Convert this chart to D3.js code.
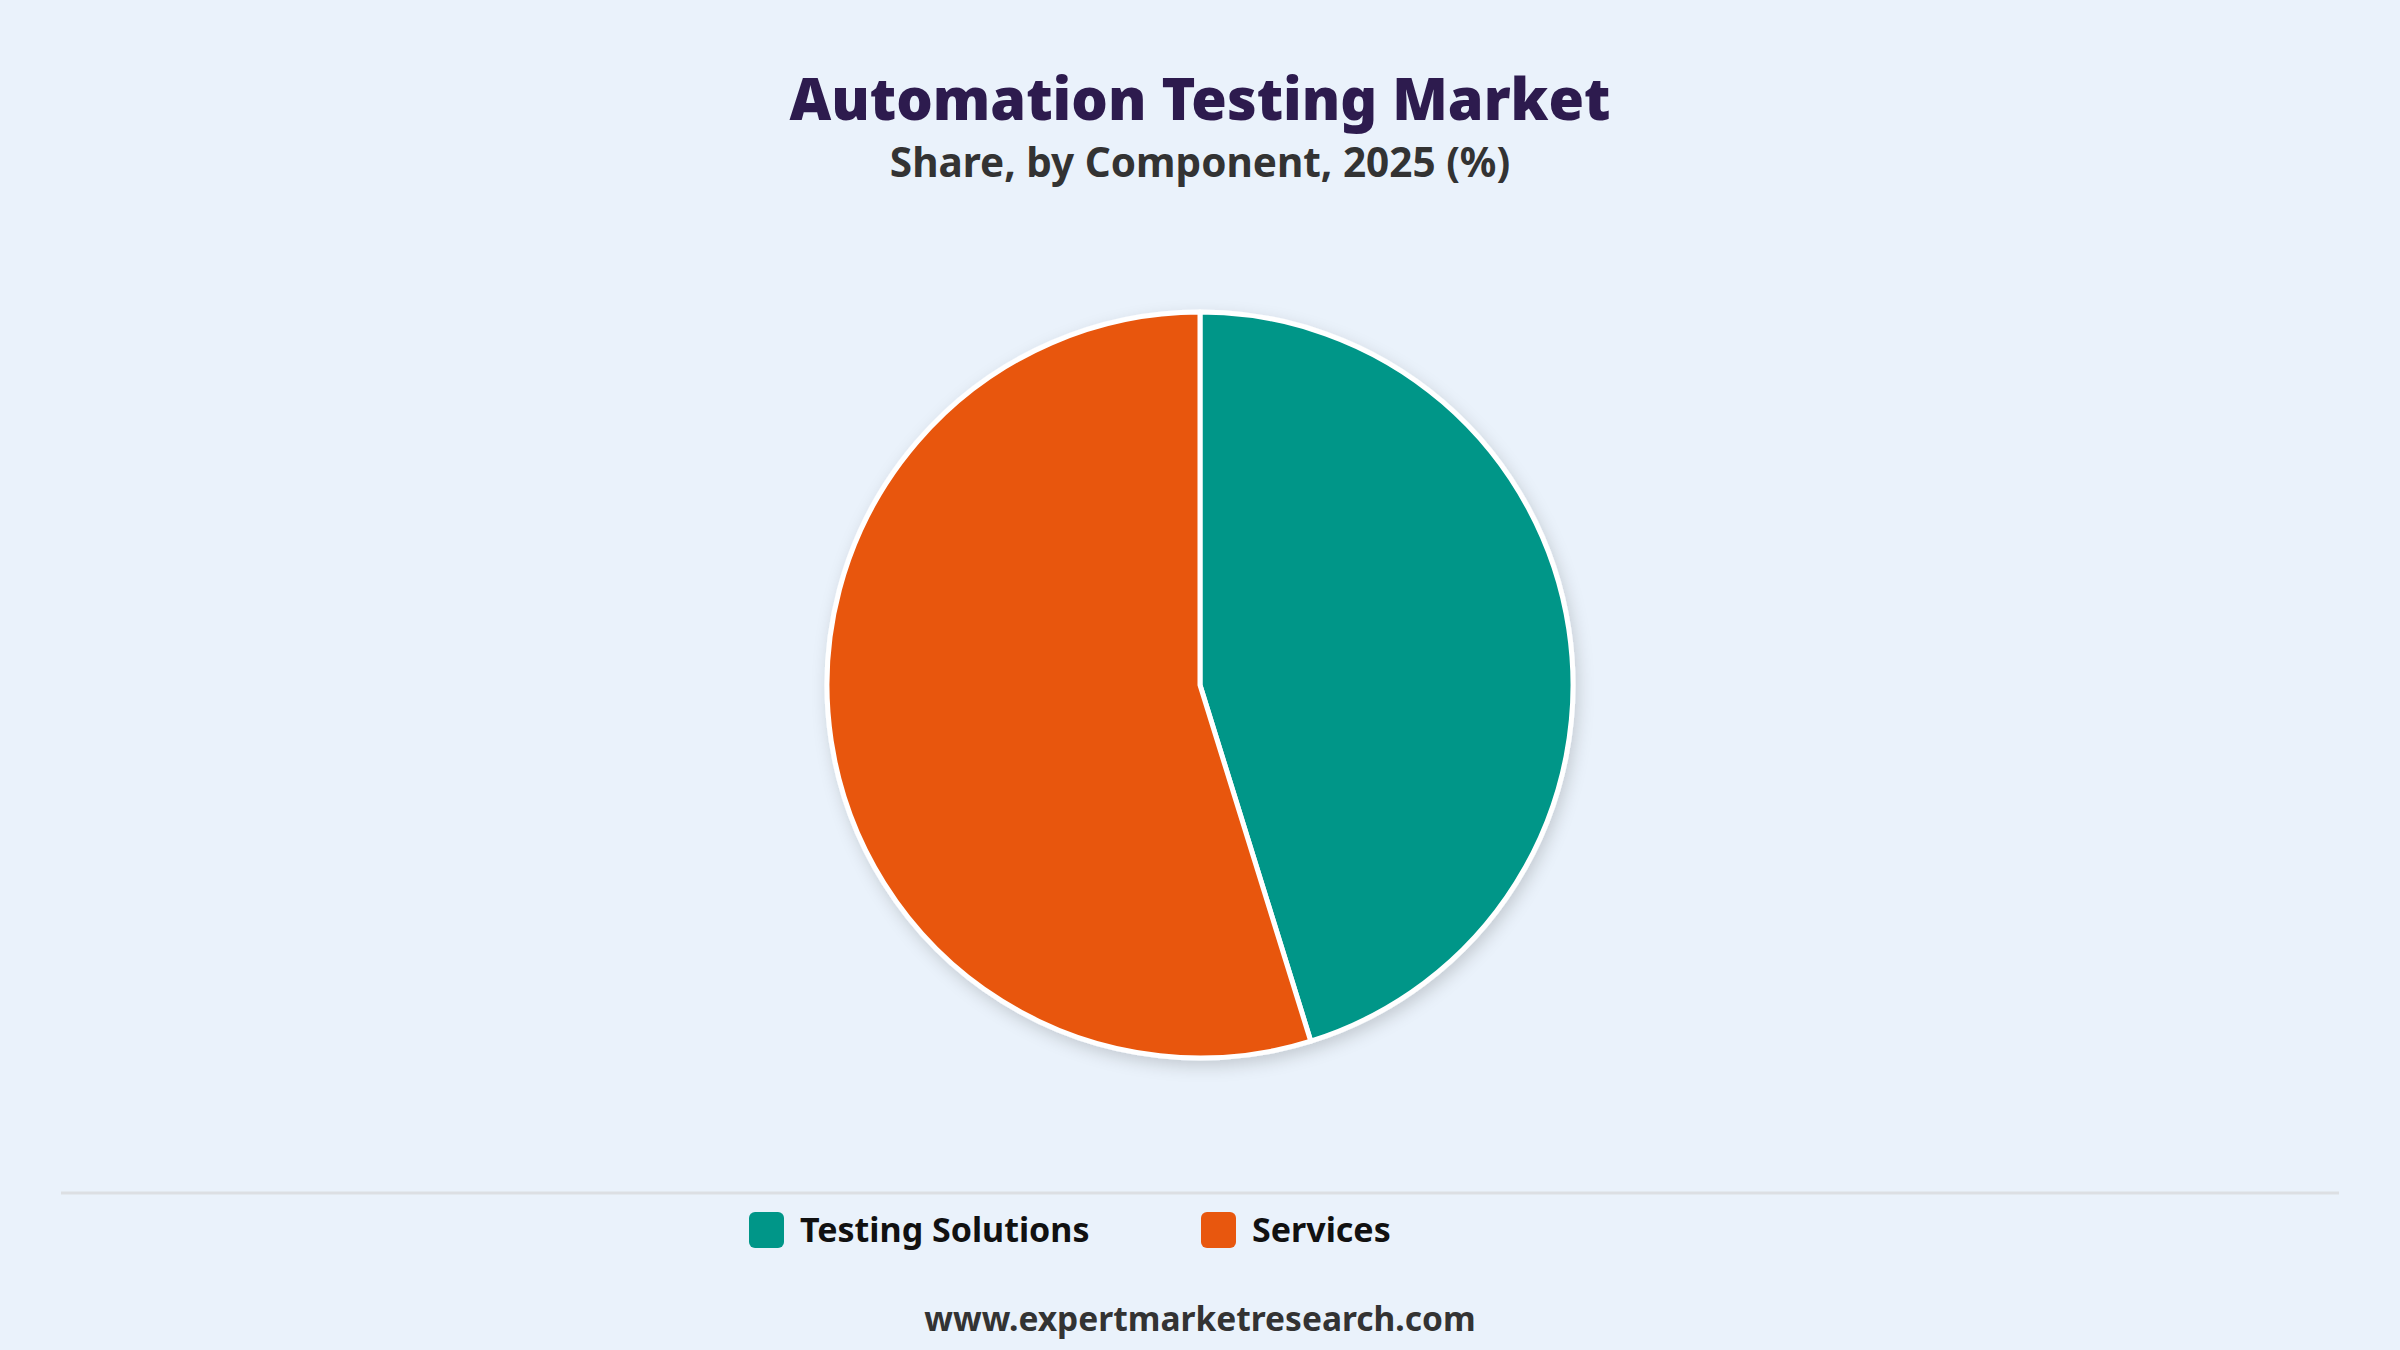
<!DOCTYPE html>
<html>
<head>
<meta charset="utf-8">
<script src="https://cdn.jsdelivr.net/npm/d3@7"></script>
<style>
  html, body { margin: 0; padding: 0; background: #eaf2fb; }
  svg { display: block; }
</style>
</head>
<body>
<div id="container"></div>
<script>
/* DATA */
const components = ["Testing Solutions", "Services"]
const shares = [45.2, 54.8]
const colors = ["#009688", "#e8570e"]

/* CONSTANTS */
const width = 2400,
  height = 1350,
  cx = 1200,
  cy = 685,
  radius = 373

const svg = d3.select("#container")
  .append("svg")
  .attr("width", width)
  .attr("height", height)

svg.append("rect")
  .attr("width", width)
  .attr("height", height)
  .attr("fill", "#eaf2fb")

// shadow for the pie
const defs = svg.append("defs")
const filter = defs.append("filter")
  .attr("id", "shadow")
  .attr("x", "-20%").attr("y", "-20%")
  .attr("width", "140%").attr("height", "140%")
filter.append("feDropShadow")
  .attr("dx", 3)
  .attr("dy", 6)
  .attr("stdDeviation", 8)
  .attr("flood-color", "#000")
  .attr("flood-opacity", 0.16)

// title
svg.append("text")
  .attr("x", width / 2)
  .attr("y", 120)
  .attr("text-anchor", "middle")
  .attr("font-family", "'Noto Sans', 'Open Sans', sans-serif")
  .attr("font-weight", 900)
  .attr("font-size", "57.5px")
  .attr("fill", "#2d1b4e")
  .text("Automation Testing Market")

svg.append("text")
  .attr("x", width / 2)
  .attr("y", 177)
  .attr("text-anchor", "middle")
  .attr("font-family", "'Noto Sans', 'Open Sans', sans-serif")
  .attr("font-weight", 700)
  .attr("font-size", "40.5px")
  .attr("fill", "#333333")
  .text("Share, by Component, 2025 (%)")

/* PIE */
const pieData = components.map((c, i) => ({ name: c, value: shares[i], color: colors[i] }))

const pie = d3.pie()
  .value(d => d.value)
  .sort(null)

const arc = d3.arc()
  .innerRadius(0)
  .outerRadius(radius)

const g = svg.append("g")
  .attr("transform", `translate(${cx},${cy})`)
  .attr("filter", "url(#shadow)")

g.selectAll("path.slice")
  .data(pie(pieData))
  .join("path")
  .attr("class", "slice")
  .attr("d", arc)
  .attr("fill", d => d.data.color)
  .attr("stroke", "#ffffff")
  .attr("stroke-width", 5)
  .attr("stroke-linejoin", "round")

// separator line
svg.append("line")
  .attr("x1", 61)
  .attr("x2", 2339)
  .attr("y1", 1193)
  .attr("y2", 1193)
  .attr("stroke", "#dcdfe3")
  .attr("stroke-width", 3)

/* LEGEND */
const legendX = d3.scalePoint()
  .domain(components)
  .range([749, 1201])

const legend = svg.selectAll("g.legend")
  .data(pieData)
  .join("g")
  .attr("class", "legend")
  .attr("transform", d => `translate(${legendX(d.name)},1212)`)

legend.append("rect")
  .attr("width", 35)
  .attr("height", 36)
  .attr("rx", 6)
  .attr("fill", d => d.color)

legend.append("text")
  .attr("x", 51)
  .attr("y", 30)
  .attr("font-family", "'Noto Sans', 'Open Sans', sans-serif")
  .attr("font-weight", 700)
  .attr("font-size", "34px")
  .attr("fill", "#111111")
  .text(d => d.name)

// footer
svg.append("text")
  .attr("x", width / 2)
  .attr("y", 1331)
  .attr("text-anchor", "middle")
  .attr("font-family", "'Noto Sans', 'Open Sans', sans-serif")
  .attr("font-weight", 700)
  .attr("font-size", "33.5px")
  .attr("fill", "#333333")
  .text("www.expertmarketresearch.com")
</script>
</body>
</html>
